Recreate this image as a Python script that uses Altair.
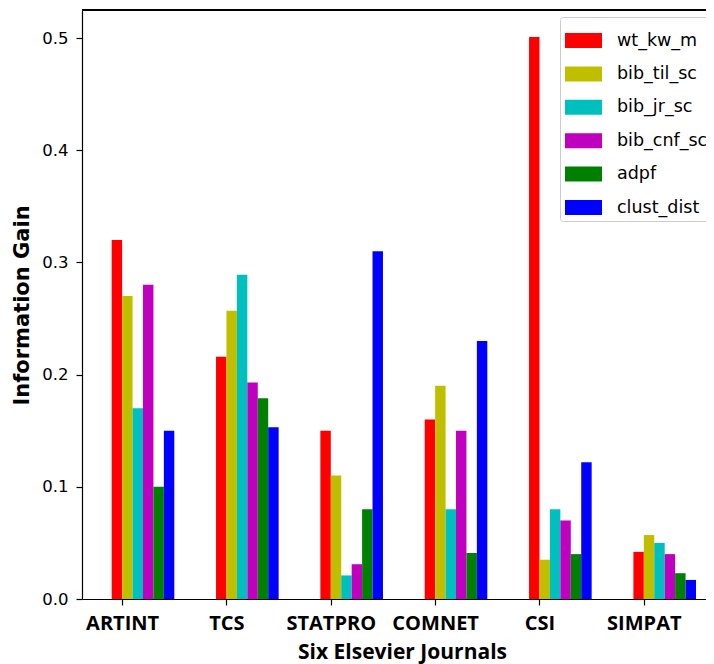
import altair as alt
import pandas as pd

journals = ["ARTINT", "TCS", "STATPRO", "COMNET", "CSI", "SIMPAT"]
series_names = ["wt_kw_m", "bib_til_sc", "bib_jr_sc", "bib_cnf_sc", "adpf", "clust_dist"]
series_colors = ["#ff0000", "#bfbf00", "#00bfbf", "#bf00bf", "#008000", "#0000ff"]

wt_kw_m = [0.320, 0.216, 0.150, 0.160, 0.501, 0.042]
bib_til_sc = [0.270, 0.257, 0.110, 0.190, 0.035, 0.057]
bib_jr_sc = [0.170, 0.289, 0.021, 0.080, 0.080, 0.050]
bib_cnf_sc = [0.280, 0.193, 0.031, 0.150, 0.070, 0.040]
adpf = [0.100, 0.179, 0.080, 0.041, 0.040, 0.023]
clust_dist = [0.150, 0.153, 0.310, 0.230, 0.122, 0.017]

y_ticks = [0.0, 0.1, 0.2, 0.3, 0.4, 0.5]

series_values = [wt_kw_m, bib_til_sc, bib_jr_sc, bib_cnf_sc, adpf, clust_dist]
rows = []
for name, vals in zip(series_names, series_values):
    for j, v in zip(journals, vals):
        rows.append({"journal": j, "series": name, "value": v})
df = pd.DataFrame(rows)

W, H = 624, 589
step = 104.34
band = 0.6 * step

bars = alt.Chart(df).mark_bar(opacity=1).encode(
    x=alt.X(
        "journal:N",
        sort=journals,
        scale=alt.Scale(paddingInner=0.4, paddingOuter=0.1902, align=0.748),
        axis=alt.Axis(
            title="Six Elsevier Journals",
            labelAngle=0,
            tickOffset=-(band / 2 - band / 6),
            labelFont="Open Sans",
            labelFontWeight="bold",
            labelFontSize=20,
            labelColor="black",
            labelBaseline="middle",
            labelPadding=18,
            tickSize=6,
            tickColor="black",
            tickWidth=1.2,
            domainColor="black",
            domainWidth=1.2,
            titleFont="Open Sans",
            titleFontWeight="bold",
            titleFontSize=21,
            titleColor="black",
            titleBaseline="middle",
            titleAlign="center",
            titleX=320,
            titleY=53,
            grid=False,
        ),
    ),
    xOffset=alt.XOffset("series:N", sort=series_names),
    y=alt.Y(
        "value:Q",
        scale=alt.Scale(domain=[0, 0.525], nice=False, zero=True),
        axis=alt.Axis(
            title="Information Gain",
            values=y_ticks,
            format=".1f",
            labelFont="DejaVu Sans",
            labelFontSize=16.5,
            labelColor="black",
            labelPadding=8,
            tickSize=6,
            tickColor="black",
            tickWidth=1.2,
            domainColor="black",
            domainWidth=1.2,
            titleFont="DejaVu Sans",
            titleFontWeight="bold",
            titleFontSize=21,
            titleColor="black",
            titleAngle=270,
            titleBaseline="middle",
            titleAlign="center",
            titleX=-60,
            titleY=295,
            grid=False,
        ),
    ),
    color=alt.Color(
        "series:N",
        sort=series_names,
        scale=alt.Scale(domain=series_names, range=series_colors),
        legend=alt.Legend(
            orient="none",
            legendX=478,
            legendY=7,
            title=None,
            symbolType="M-1,-0.405L1,-0.405L1,0.405L-1,0.405Z",
            symbolSize=1369,
            symbolStrokeWidth=0,
            symbolOpacity=1,
            labelFont="DejaVu Sans",
            labelFontSize=17.5,
            labelColor="black",
            labelOffset=15,
            rowPadding=6.4,
            padding=5,
            fillColor="white",
            strokeColor="#cccccc",
            cornerRadius=3,
        ),
    ),
)

top_spine = alt.Chart(df).mark_rule(color="black", strokeWidth=1.2).encode(
    x=alt.value(0), x2=alt.value(W), y=alt.value(0)
)

chart = alt.layer(bars, top_spine).properties(
    width=W,
    height=H,
    autosize=alt.AutoSizeParams(type="none"),
    padding={"left": 74, "top": 2, "right": 0, "bottom": 65},
    background="white",
).configure_view(stroke=None)

chart.save("out.html", embed_options={"renderer": "svg", "actions": False})
